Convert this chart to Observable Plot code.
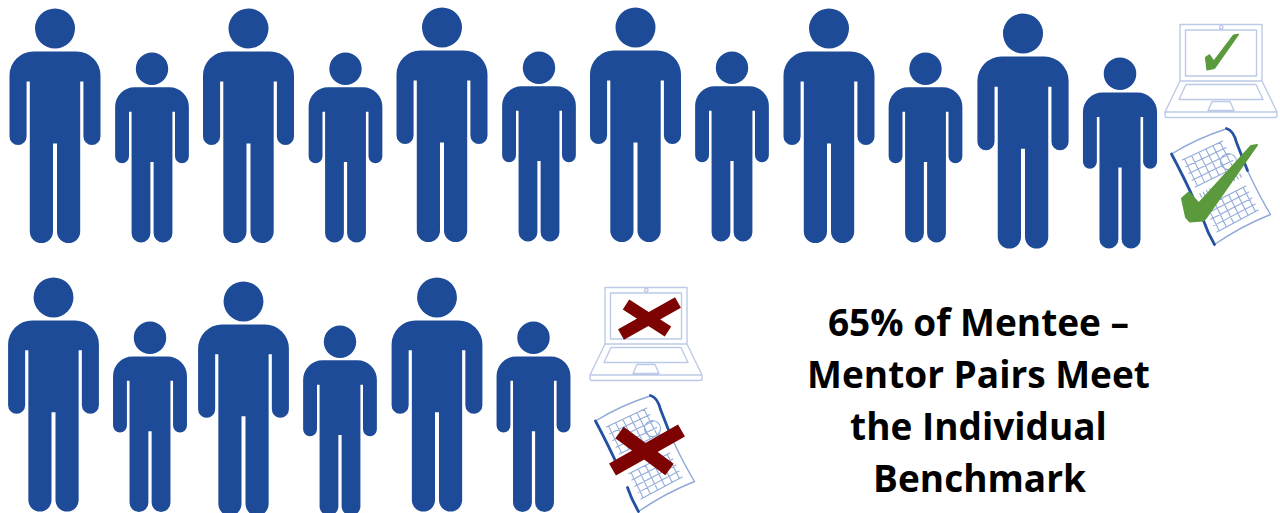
<!DOCTYPE html>
<html>
<head>
<meta charset="utf-8">
<style>
  html, body { margin: 0; padding: 0; background: #fff; }
  svg { display: block; }
</style>
<script src="https://cdn.jsdelivr.net/npm/d3@7"></script>
<script src="https://cdn.jsdelivr.net/npm/@observablehq/plot@0.6"></script>
</head>
<body>
<div id="chart"></div>
<script>
// Mentee and mentor pairs: placement of each figure on the canvas grid.
const mentorX =     [54.5, 248, 441.5, 635, 828.5, 1022.5, 53, 243, 436.5];
const mentorTop =   [8, 8, 7, 7, 8, 13, 277, 281, 277];
const mentorFoot =  [242.5, 242.5, 241.5, 241.5, 242.5, 248, 511, 515, 511];
const menteeX =     [151.5, 345, 538.5, 731.5, 925, 1119.5, 149.5, 339.5, 533];
const menteeTop =   [52, 52, 51, 51, 52, 57, 321, 325, 321];
const menteeFoot =  [242, 242, 241, 241, 242, 248, 511.5, 515, 511.5];

// Status icons: one laptop and one calendar for each outcome.
const laptopX = [1179.5, 604.5];
const laptopY = [24, 287];
const calendarX = [1160, 584];
const calendarY = [120, 387];

// Headline, one entry per line.
const headlineLines = ["65% of Mentee \u2013", "Mentor Pairs Meet", "the Individual", "Benchmark"];
const headlineX = [978, 978, 978, 979];
const headlineY = [335.5, 387.5, 439.5, 491.5];

const blue = "#1e4b98";
const green = "#5b9a3c";
const red = "#7d0303";

const people = [
  ...mentorX.map((x, i) => ({x, top: mentorTop[i], height: mentorFoot[i] - mentorTop[i]})),
  ...menteeX.map((x, i) => ({x, top: menteeTop[i], height: menteeFoot[i] - menteeTop[i]}))
];
const laptops = laptopX.map((x, i) => ({x, y: laptopY[i]}));
const calendars = calendarX.map((x, i) => ({x, y: calendarY[i]}));

// Standing figure, authored at 234.5 units tall and scaled to the requested height.
const personShape = {
  draw(c, l) {
    const s = l / 234.5;
    const P = (x, y) => [x * s, y * s];
    const pi = Math.PI;
    const head = P(0, 20);
    c.moveTo(head[0] + 20 * s, head[1]);
    c.arc(head[0], head[1], 20 * s, 0, 2 * pi);
    c.closePath();

    const shoulder = 45.5, armIn = 28.4, torso = 25.2, gap = 2, legR = 11.6, armR = 8.55;
    c.moveTo(...P(-shoulder + 24, 43));
    c.lineTo(...P(shoulder - 24, 43));
    c.arc(...P(shoulder - 24, 67), 24 * s, -pi / 2, 0);
    c.lineTo(...P(shoulder, 128));
    c.arc(...P(shoulder - armR, 128), armR * s, 0, pi);
    c.lineTo(...P(armIn, 73));
    c.lineTo(...P(torso, 73));
    c.lineTo(...P(torso, 223));
    c.arc(...P(torso - legR, 223), legR * s, 0, pi);
    c.lineTo(...P(gap, 135));
    c.lineTo(...P(-gap, 135));
    c.lineTo(...P(-gap, 223));
    c.arc(...P(-torso + legR, 223), legR * s, 0, pi);
    c.lineTo(...P(-torso, 73));
    c.lineTo(...P(-armIn, 73));
    c.lineTo(...P(-armIn, 128));
    c.arc(...P(-shoulder + armR, 128), armR * s, 0, pi);
    c.lineTo(...P(-shoulder, 67));
    c.arc(...P(-shoulder + 24, 67), 24 * s, pi, 1.5 * pi);
    c.closePath();
  }
};

const rect = (c, x0, y0, x1, y1) => {
  c.moveTo(x0, y0); c.lineTo(x1, y0); c.lineTo(x1, y1); c.lineTo(x0, y1); c.closePath();
};

// Open laptop outline, drawn from the top-left corner of the lid.
const laptopShape = {
  draw(c) {
    rect(c, 0, 0, 82, 56.5);
    rect(c, 5.5, 5.5, 76.5, 51.5);
    c.moveTo(43, 2.8); c.arc(41.3, 2.8, 1.7, 0, 2 * Math.PI);
    c.moveTo(0, 56.5); c.lineTo(-15, 87.5); c.lineTo(-15, 91); c.quadraticCurveTo(-15, 93, -13, 93);
    c.lineTo(95, 93); c.quadraticCurveTo(97, 93, 97, 91); c.lineTo(97, 87.5); c.lineTo(82, 56.5);
    c.moveTo(-15, 87.5); c.lineTo(97, 87.5);
    c.moveTo(6, 60); c.lineTo(76, 60); c.lineTo(83, 75); c.lineTo(-1, 75); c.closePath();
    c.moveTo(32, 77); c.lineTo(50, 77); c.lineTo(54, 86); c.lineTo(28, 86); c.closePath();
  }
};

const polygon = (c, pts) => {
  pts.forEach(([x, y], i) => (i ? c.lineTo(x, y) : c.moveTo(x, y)));
  c.closePath();
};
const laptopTick = {draw: (c) => polygon(c, [[25.5, 33], [29.5, 30.3], [33.8, 36.5], [53.5, 10.5], [58.5, 9.8], [34.5, 44], [27, 45.5]])};
const calendarTick = {draw: (c) => polygon(c, [[21.5, 78], [28.3, 72], [38.3, 83], [90.7, 25.5], [96.5, 24.5], [45, 98], [42.5, 100], [29.5, 101], [25.5, 96.5]])};

const cross = (ax, ay, bx, by, cx, cy, dx, dy) => ({
  draw(c) { c.moveTo(ax, ay); c.lineTo(bx, by); c.moveTo(cx, cy); c.lineTo(dx, dy); }
});
const laptopCross = cross(21, 17, 63, 44, 16, 47, 73, 15);
const calendarCross = cross(35, 45, 85, 82, 28, 82, 97, 43);

// The tilted wall calendar: corners of the sheet, with two grids either side of the fold.
const corner = {tl: [11, 33.5], tr: [65.5, 8.5], br: [110, 94], bl: [54, 124]};
const sheet = (u, v) => {
  const top = [corner.tl[0] + (corner.tr[0] - corner.tl[0]) * u, corner.tl[1] + (corner.tr[1] - corner.tl[1]) * u];
  const bot = [corner.bl[0] + (corner.br[0] - corner.bl[0]) * u, corner.bl[1] + (corner.br[1] - corner.bl[1]) * u];
  return [top[0] + (bot[0] - top[0]) * v, top[1] + (bot[1] - top[1]) * v];
};
const seg = (c, a, b) => { c.moveTo(...a); c.lineTo(...b); };
const calendarGrid = {
  draw(c) {
    for (const [v0, v1, rows] of [[0.1, 0.4, 4], [0.62, 0.9, 4]]) {
      for (let i = 0; i <= 5; ++i) { const u = 0.16 + i * 0.13; seg(c, sheet(u, v0), sheet(u, v1)); }
      for (let j = 0; j <= rows; ++j) { const v = v0 + (v1 - v0) * j / rows; seg(c, sheet(0.12, v), sheet(0.86, v)); }
    }
    c.moveTo(76, 41); c.arc(68, 41, 8, 0, 2 * Math.PI);
    for (let i = 0; i <= 12; ++i) { const u = 0.14 + i * 0.06; seg(c, sheet(u, 0.48), sheet(u, 0.52)); }
  }
};
const calendarSheet = {
  draw(c) {
    c.moveTo(...corner.tl);
    c.quadraticCurveTo(36, 18, ...corner.tr);
    c.moveTo(87, 50); c.quadraticCurveTo(98, 74, ...corner.br);
    c.quadraticCurveTo(80, 106, ...corner.bl);
  }
};
const calendarEdge = {
  draw(c) {
    c.moveTo(...corner.tl); c.quadraticCurveTo(24, 58, 33, 78);
    c.moveTo(66, 8); c.quadraticCurveTo(73, 10, 76, 22); c.lineTo(87, 50);
    c.moveTo(43, 100); c.quadraticCurveTo(47, 112, ...corner.bl);
  }
};

const icon = (data, shape, options) => Plot.vector(data, {
  x: "x", y: "y", length: 1, anchor: "start", rotate: 0, shape, ...options
});
const pick = (data, i) => [data[i]];

const chart = Plot.plot({
  width: 1280,
  height: 513,
  margin: 0,
  x: {domain: [0, 1280], range: [0, 1280], axis: null},
  y: {domain: [0, 513], range: [0, 513], axis: null},
  length: {type: "identity"},
  style: {background: "#fff"},
  marks: [
    Plot.vector(people, {
      x: "x", y: "top", length: "height", anchor: "start", rotate: 0,
      shape: personShape, fill: blue, stroke: "none"
    }),
    icon(laptops, laptopShape, {stroke: "#bccaE8", strokeWidth: 1.4, fill: "none"}),
    icon(pick(laptops, 0), laptopTick, {fill: green, stroke: green, strokeWidth: 1.2, strokeLinejoin: "round"}),
    icon(pick(laptops, 1), laptopCross, {stroke: red, strokeWidth: 12, fill: "none", strokeLinecap: "butt"}),
    icon(calendars, calendarGrid, {stroke: "#93abd9", strokeWidth: 1.1, fill: "none"}),
    icon(calendars, calendarSheet, {stroke: "#8fa8d8", strokeWidth: 1.4, fill: "none"}),
    icon(calendars, calendarEdge, {stroke: "#2452a3", strokeWidth: 2.8, fill: "none", strokeLinecap: "round"}),
    icon(pick(calendars, 0), calendarTick, {fill: green, stroke: green, strokeWidth: 2, strokeLinejoin: "round"}),
    icon(pick(calendars, 1), calendarCross, {stroke: red, strokeWidth: 14, fill: "none", strokeLinecap: "butt"}),
    Plot.text(headlineLines, {
      x: (d, i) => headlineX[i],
      y: (d, i) => headlineY[i],
      text: (d) => d,
      textAnchor: "middle",
      lineAnchor: "bottom",
      fontFamily: "Open Sans",
      fontWeight: 700,
      fontSize: 37,
      fill: "#000"
    })
  ]
});
document.getElementById("chart").append(chart);
</script>
</body>
</html>
